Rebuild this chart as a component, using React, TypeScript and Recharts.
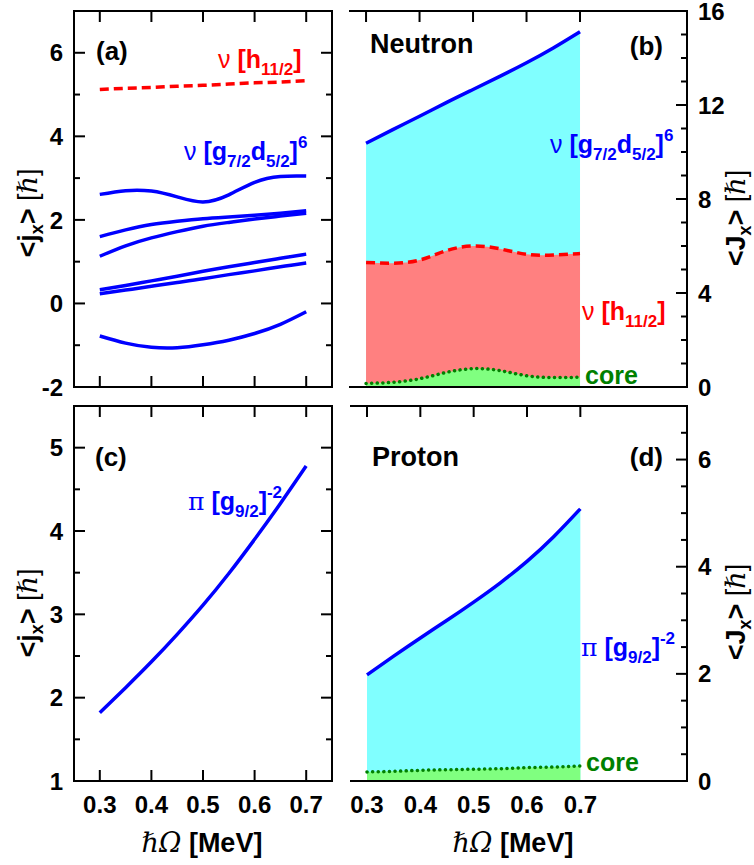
import React from 'react';
import { ComposedChart, Line, Area, XAxis, YAxis } from 'recharts';

// rotational frequency (MeV)
const omega = [0.3, 0.35, 0.4, 0.45, 0.5, 0.55, 0.6, 0.65, 0.7];

// (a) neutron single-particle <jx>
const nuH11 = [5.12, 5.15, 5.17, 5.2, 5.22, 5.25, 5.28, 5.3, 5.33];
const nuG1 = [2.61, 2.7, 2.69, 2.55, 2.43, 2.6, 2.9, 3.04, 3.05];
const nuG2 = [1.6, 1.76, 1.89, 1.97, 2.03, 2.07, 2.11, 2.16, 2.22];
const nuG3 = [1.13, 1.38, 1.57, 1.72, 1.85, 1.94, 2.02, 2.09, 2.16];
const nuG4 = [0.33, 0.43, 0.54, 0.65, 0.77, 0.88, 0.98, 1.08, 1.18];
const nuG5 = [0.23, 0.32, 0.41, 0.5, 0.59, 0.69, 0.78, 0.88, 0.97];
const nuG6 = [-0.78, -0.95, -1.05, -1.06, -0.99, -0.88, -0.72, -0.5, -0.2];

// (b) neutron <Jx>, cumulative contributions
const nTotal = [10.37, 10.95, 11.52, 12.1, 12.66, 13.22, 13.8, 14.43, 15.12];
const nH11Core = [5.3, 5.27, 5.4, 5.8, 6.0, 5.88, 5.65, 5.62, 5.68];
const nCore = [0.15, 0.2, 0.35, 0.62, 0.78, 0.7, 0.48, 0.4, 0.42];

// (c) proton single-particle <jx>
const piG = [1.82, 2.12, 2.43, 2.76, 3.11, 3.49, 3.9, 4.33, 4.78];

// (d) proton <Jx>
const pTotal = [1.98, 2.33, 2.67, 3.0, 3.34, 3.7, 4.1, 4.56, 5.08];
const pCore = [0.17, 0.18, 0.2, 0.21, 0.22, 0.23, 0.25, 0.26, 0.28];

const xTicksMain = [0.3, 0.4, 0.5, 0.6, 0.7];
const yTicksA = [-2, -1, 0, 1, 2, 3, 4, 5, 6];
const yTicksB = [0, 1, 2, 3, 4, 5, 6, 7, 8, 9, 10, 11, 12, 13, 14, 15, 16];
const yTicksC = [1, 1.5, 2, 2.5, 3, 3.5, 4, 4.5, 5];
const yTicksD = [0, 0.5, 1, 1.5, 2, 2.5, 3, 3.5, 4, 4.5, 5, 5.5, 6, 6.5];

const SANS = '"Liberation Sans", Arial, sans-serif';
const SERIF = '"DejaVu Serif", serif';
const BLUE = '#0000ff';
const RED = '#ff0000';
const GREEN = '#008000';

const dataA = omega.map((x, i) => ({
  x, h: nuH11[i], g1: nuG1[i], g2: nuG2[i], g3: nuG3[i], g4: nuG4[i], g5: nuG5[i], g6: nuG6[i],
}));
const dataB = omega.map((x, i) => ({ x, tot: nTotal[i], h: nH11Core[i], core: nCore[i] }));
const dataC = omega.map((x, i) => ({ x, g: piG[i] }));
const dataD = omega.map((x, i) => ({ x, tot: pTotal[i], core: pCore[i] }));

const axisLine = { stroke: '#000', strokeWidth: 2, strokeLinecap: 'square' as const };
const tickFont = { fontFamily: SANS, fontSize: 24, fontWeight: 700, fill: '#000' };

const isMajor = (v: number, step: number) => Math.abs(v / step - Math.round(v / step)) < 1e-6;

const xTick = (side: 'top' | 'bottom', withLine: boolean, withLabel: boolean) => (p: any) => {
  const { x, y, payload } = p;
  const dir = side === 'bottom' ? -1 : 1;
  return (
    <g>
      {withLine && <line x1={x} y1={y} x2={x} y2={y + dir * 11} stroke="#000" strokeWidth={2} />}
      {withLabel && (
        <text x={x} y={y + 32} textAnchor="middle" style={tickFont}>
          {Number(payload.value).toFixed(1)}
        </text>
      )}
    </g>
  );
};

const yTick = (side: 'left' | 'right', step: number, withLabel: boolean) => (p: any) => {
  const { x, y, payload } = p;
  const v = Number(payload.value);
  const major = isMajor(v, step);
  const dir = side === 'left' ? 1 : -1;
  const len = major ? 11 : 6;
  return (
    <g>
      <line x1={x} y1={y} x2={x + dir * len} y2={y} stroke="#000" strokeWidth={2} />
      {withLabel && major && (
        <text x={x - dir * 11} y={y} dy="0.36em" textAnchor={side === 'left' ? 'end' : 'start'} style={tickFont}>
          {v}
        </text>
      )}
    </g>
  );
};

type FrameOpts = {
  xDomain: [number, number];
  yDomain: [number, number];
  yTicks: number[];
  yStep: number;
  leftWidth: number;
  labelSide: 'left' | 'right';
  bottomLines: boolean;
  bottomLabels: boolean;
  dataKey: string;
};

const frame = (o: FrameOpts) => [
  <XAxis
    key="xb"
    xAxisId="b"
    type="number"
    dataKey="x"
    domain={o.xDomain}
    allowDataOverflow
    ticks={xTicksMain}
    interval={0}
    height={1}
    tickSize={0}
    tickMargin={0}
    tickLine={false}
    axisLine={axisLine}
    tick={xTick('bottom', o.bottomLines, o.bottomLabels)}
  />,
  <XAxis
    key="xt"
    xAxisId="t"
    orientation="top"
    type="number"
    dataKey="x"
    domain={o.xDomain}
    allowDataOverflow
    ticks={xTicksMain}
    interval={0}
    height={1}
    tickSize={0}
    tickMargin={0}
    tickLine={false}
    axisLine={axisLine}
    tick={xTick('top', true, false)}
  />,
  <YAxis
    key="yl"
    yAxisId="l"
    type="number"
    domain={o.yDomain}
    allowDataOverflow
    ticks={o.yTicks}
    interval={0}
    width={o.leftWidth}
    tickSize={0}
    tickMargin={0}
    tickLine={false}
    axisLine={axisLine}
    tick={yTick('left', o.yStep, o.labelSide === 'left')}
  />,
  <YAxis
    key="yr"
    yAxisId="r"
    orientation="right"
    type="number"
    domain={o.yDomain}
    allowDataOverflow
    ticks={o.yTicks}
    interval={0}
    width={1}
    tickSize={0}
    tickMargin={0}
    tickLine={false}
    axisLine={axisLine}
    tick={yTick('right', o.yStep, o.labelSide === 'right')}
  />,
  <Line
    key="ghost"
    xAxisId="t"
    yAxisId="r"
    dataKey={o.dataKey}
    stroke="none"
    dot={false}
    activeDot={false}
    legendType="none"
    isAnimationActive={false}
  />,
];

const lineProps = { xAxisId: 'b', yAxisId: 'l', type: 'natural' as const, dot: false, activeDot: false, isAnimationActive: false };

const Sub = ({ children, up = false }: { children: React.ReactNode; up?: boolean }) => (
  <tspan fontSize={17} dy={up ? -12 : 7}>{children}</tspan>
);

const Labels = () => (
  <svg width={754} height={865} style={{ position: 'absolute', left: 0, top: 0, pointerEvents: 'none' }}>
    <g fontFamily={SANS} fontWeight={700}>
      {/* panel tags */}
      <text x={96} y={60} fontSize={26}>(a)</text>
      <text x={663} y={55} fontSize={26} textAnchor="end">(b)</text>
      <text x={95} y={466} fontSize={26}>(c)</text>
      <text x={663} y={466} fontSize={26} textAnchor="end">(d)</text>
      <text x={370} y={53} fontSize={27}>Neutron</text>
      <text x={372} y={466} fontSize={27}>Proton</text>

      {/* (a) */}
      <text x={218} y={68} fontSize={25} fill={RED}>
        <tspan fontWeight={400}>ν</tspan>{' [h'}<Sub>11/2</Sub><tspan dy={-7}>]</tspan>
      </text>
      <text x={184} y={160} fontSize={25} fill={BLUE}>
        <tspan fontWeight={400}>ν</tspan>{' [g'}<Sub>7/2</Sub><tspan dy={-7}>d</tspan><Sub>5/2</Sub>
        <tspan dy={-7}>]</tspan><Sub up>6</Sub>
      </text>

      {/* (b) */}
      <text x={550} y={153} fontSize={25} fill={BLUE}>
        <tspan fontWeight={400}>ν</tspan>{' [g'}<Sub>7/2</Sub><tspan dy={-7}>d</tspan><Sub>5/2</Sub>
        <tspan dy={-7}>]</tspan><Sub up>6</Sub>
      </text>
      <text x={582} y={320} fontSize={25} fill={RED}>
        <tspan fontWeight={400}>ν</tspan>{' [h'}<Sub>11/2</Sub><tspan dy={-7}>]</tspan>
      </text>
      <text x={585} y={384} fontSize={25} fill={GREEN}>core</text>

      {/* (c) */}
      <text x={188} y={510} fontSize={25} fill={BLUE}>
        <tspan fontWeight={400} fontFamily={SERIF}>π</tspan>{' [g'}<Sub>9/2</Sub><tspan dy={-7}>]</tspan>
        <Sub up>-2</Sub>
      </text>

      {/* (d) */}
      <text x={581} y={656} fontSize={25} fill={BLUE}>
        <tspan fontWeight={400} fontFamily={SERIF}>π</tspan>{' [g'}<Sub>9/2</Sub><tspan dy={-7}>]</tspan>
        <Sub up>-2</Sub>
      </text>
      <text x={586} y={771} fontSize={25} fill={GREEN}>core</text>

      {/* axis titles */}
      {[
        { x: 37, y: 213, big: 'j' },
        { x: 37, y: 613, big: 'j' },
        { x: 745, y: 218, big: 'J' },
        { x: 745, y: 612, big: 'J' },
      ].map((t, i) => (
        <text key={i} x={t.x} y={t.y} transform={`rotate(-90 ${t.x} ${t.y})`} textAnchor="middle" fontSize={27}>
          {'<' + t.big}
          <tspan fontSize={18} dy={6}>x</tspan>
          <tspan dy={-6}>{'>'}</tspan>
          <tspan fontWeight={400}>{' ['}</tspan>
          <tspan fontWeight={400} fontFamily={SERIF} fontStyle="italic">ℏ</tspan>
          <tspan fontWeight={400}>]</tspan>
        </text>
      ))}
      {[202, 513].map((cx) => (
        <text key={cx} x={cx} y={852} textAnchor="middle" fontSize={27}>
          <tspan fontWeight={400} fontFamily={SERIF} fontStyle="italic">ℏΩ</tspan>
          {' [MeV]'}
        </text>
      ))}
    </g>
  </svg>
);

export default function App() {
  return (
    <div style={{ position: 'absolute', left: 0, top: 0, width: 754, height: 865, background: '#fff' }}>
      {/* (a) */}
      <div style={{ position: 'absolute', left: 0, top: 0 }}>
        <ComposedChart width={345} height={400} data={dataA} margin={{ top: 10, right: 12, bottom: 12, left: 0 }}>
          {frame({ xDomain: [0.25, 0.75], yDomain: [-2, 7], yTicks: yTicksA, yStep: 2, leftWidth: 74, labelSide: 'left', bottomLines: true, bottomLabels: false, dataKey: 'h' })}
          <Line {...lineProps} dataKey="h" stroke={RED} strokeWidth={3.5} strokeDasharray="9 5" />
          <Line {...lineProps} dataKey="g1" stroke={BLUE} strokeWidth={3.5} />
          <Line {...lineProps} dataKey="g2" stroke={BLUE} strokeWidth={3.5} />
          <Line {...lineProps} dataKey="g3" stroke={BLUE} strokeWidth={3.5} />
          <Line {...lineProps} dataKey="g4" stroke={BLUE} strokeWidth={3.5} />
          <Line {...lineProps} dataKey="g5" stroke={BLUE} strokeWidth={3.5} />
          <Line {...lineProps} dataKey="g6" stroke={BLUE} strokeWidth={3.5} />
        </ComposedChart>
      </div>

      {/* (b) */}
      <div style={{ position: 'absolute', left: 340, top: 0 }}>
        <ComposedChart width={414} height={400} data={dataB} margin={{ top: 10, right: 66, bottom: 12, left: 10 }}>
          {frame({ xDomain: [0.27, 0.9], yDomain: [0, 16], yTicks: yTicksB, yStep: 4, leftWidth: 0, labelSide: 'right', bottomLines: false, bottomLabels: false, dataKey: 'tot' })}
          <Area {...lineProps} dataKey="tot" stroke={BLUE} strokeWidth={3.5} fill="#80ffff" fillOpacity={1} />
          <Area {...lineProps} dataKey="h" stroke={RED} strokeWidth={3.5} strokeDasharray="9 5" fill="#ff8080" fillOpacity={1} />
          <Area {...lineProps} dataKey="core" stroke={GREEN} strokeWidth={3.5} strokeDasharray="0.1 5.5" strokeLinecap="round" fill="#80ff80" fillOpacity={1} />
        </ComposedChart>
      </div>

      {/* (c) */}
      <div style={{ position: 'absolute', left: 0, top: 395 }}>
        <ComposedChart width={345} height={470} data={dataC} margin={{ top: 10, right: 12, bottom: 83, left: 0 }}>
          {frame({ xDomain: [0.25, 0.75], yDomain: [1, 5.5], yTicks: yTicksC, yStep: 1, leftWidth: 74, labelSide: 'left', bottomLines: true, bottomLabels: true, dataKey: 'g' })}
          <Line {...lineProps} dataKey="g" stroke={BLUE} strokeWidth={3.5} />
        </ComposedChart>
      </div>

      {/* (d) */}
      <div style={{ position: 'absolute', left: 340, top: 395 }}>
        <ComposedChart width={414} height={470} data={dataD} margin={{ top: 10, right: 66, bottom: 83, left: 11 }}>
          {frame({ xDomain: [0.27, 0.9], yDomain: [0, 7], yTicks: yTicksD, yStep: 2, leftWidth: 0, labelSide: 'right', bottomLines: false, bottomLabels: true, dataKey: 'tot' })}
          <Area {...lineProps} dataKey="tot" stroke={BLUE} strokeWidth={3.5} fill="#80ffff" fillOpacity={1} />
          <Area {...lineProps} dataKey="core" stroke={GREEN} strokeWidth={3.5} strokeDasharray="0.1 5.5" strokeLinecap="round" fill="#80ff80" fillOpacity={1} />
        </ComposedChart>
      </div>

      <Labels />
    </div>
  );
}
